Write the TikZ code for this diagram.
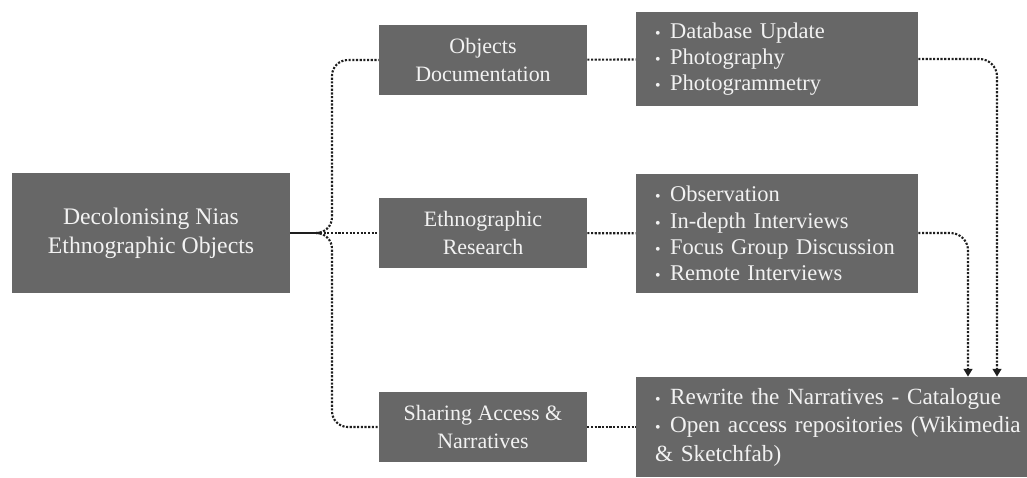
\documentclass[tikz,border=0pt]{standalone}
\usepackage{fontspec}
\setmainfont{Liberation Serif}
\usetikzlibrary{arrows.meta, positioning, calc}
\definecolor{boxgrey}{HTML}{676767}
\definecolor{boxtext}{HTML}{F2F2F2}
\definecolor{dotdark}{HTML}{1E1E1E}
\newcommand{\bul}{\makebox[0.3cm][l]{\small\textbullet}}

\begin{document}
\begin{tikzpicture}[x=0.02cm, y=-0.02cm,
          base/.style={fill=boxgrey, text=boxtext, inner sep=0pt, align=center},
          mainbox/.style={base, minimum width=5.56cm, minimum height=2.42cm, font=\fontsize{13.5}{16.4}\selectfont},
          midbox/.style={base, minimum width=4.16cm, minimum height=1.4cm, font=\fontsize{12.5}{16}\selectfont},
          listbox/.style={base, align=left, inner xsep=0.38cm, minimum height=#1, font=\fontsize{12.8}{15}\selectfont},
          link/.style={dotdark, line width=1.2pt, dash pattern=on 1.2pt off 0.9pt},
          tip/.style={-{Triangle[width=5pt,length=4.5pt]}}]
  \useasboundingbox (0,0) rectangle (1027,477);
  % left and middle column
  \node[mainbox] (decol) at (151,233) {Decolonising Nias\\Ethnographic Objects};
  \node[midbox] (objdoc) at (483,60) {Objects\\Documentation};
  \node[midbox] (ethres) at (483,233) {Ethnographic\\Research};
  \node[midbox] (share) at (483,427) {Sharing Access \&\\Narratives};
  % lists
  \node[listbox=1.88cm, text width=4.88cm] (lstdoc) at (777,59)
    {\bul Database Update\\\bul Photography\\\bul Photogrammetry};
  \node[listbox=2.38cm, text width=4.88cm] (lstres) at (777,233.5)
    {\bul Observation\\\bul In-depth Interviews\\\bul Focus Group Discussion\\\bul Remote Interviews};
  \node[listbox=2cm, text width=7.06cm, font=\fontsize{13.2}{16.2}\selectfont] (lstshare) at (831.5,427)
    {\bul Rewrite the Narratives - Catalogue\\\bul \mbox{Open access repositories (Wikimedia}\\\& Sketchfab)};
  % fork
  \coordinate (fork) at (320,233);
  \coordinate (spine) at (332,233);
  \draw[dotdark, line width=1.3pt] (decol.east) -- (fork);
  \draw[link] (fork) -- (ethres.west);
  \draw[link, rounded corners=9pt] (fork) -| (spine |- objdoc.west) -- (objdoc.west);
  \draw[link, rounded corners=9pt] (fork) -| (spine |- share.west) -- (share.west);
  \draw[link] (objdoc) -- (lstdoc); \draw[link] (ethres) -- (lstres); \draw[link] (share) -- (lstshare);
  % drops into the last list
  \coordinate (dropa) at (997,0);
  \coordinate (dropb) at (968,0);
  \draw[link, tip, rounded corners=10pt] (lstdoc.east) -| (lstshare.north -| dropa);
  \draw[link, tip, rounded corners=10pt] (lstres.east |- ethres) -| (lstshare.north -| dropb);
\end{tikzpicture}
\end{document}
